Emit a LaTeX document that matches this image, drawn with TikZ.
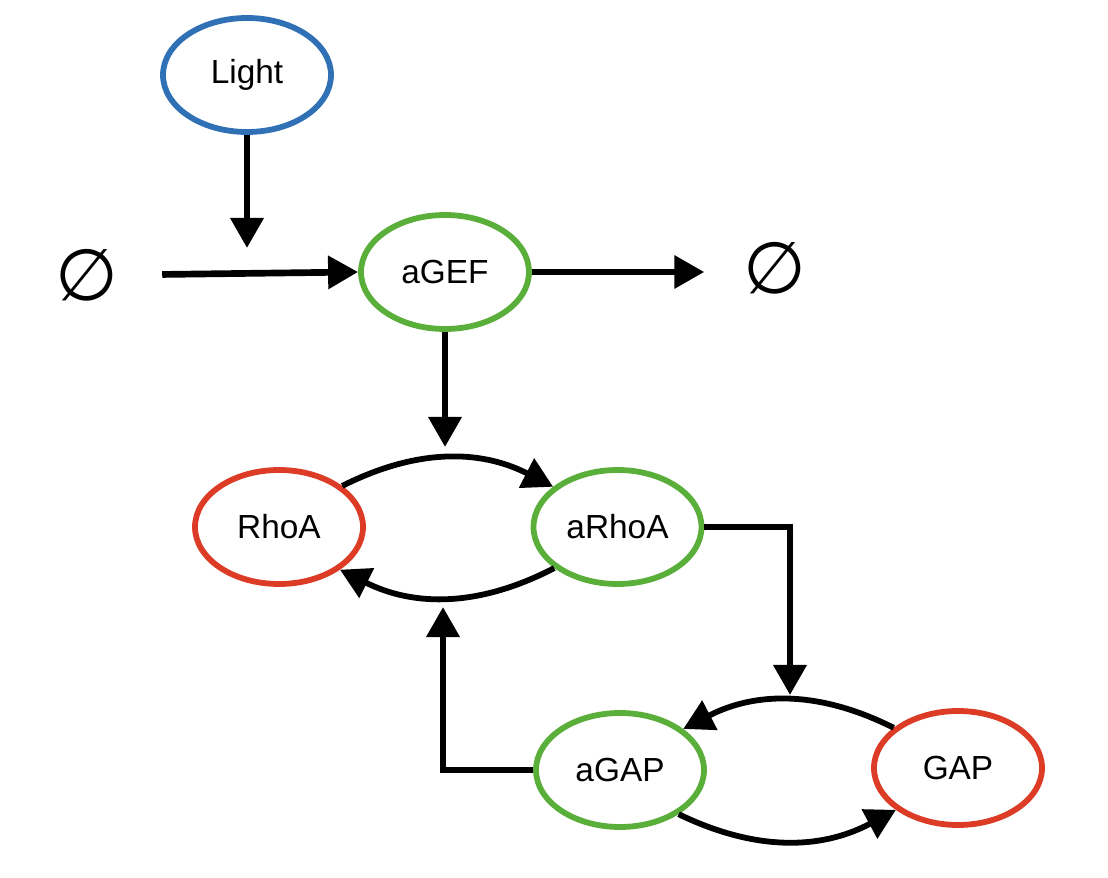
\documentclass[tikz,border=0pt]{standalone}
\usepackage{fontspec}
\setmainfont{Liberation Sans}
\newfontfamily\symfont{DejaVu Sans}
\usetikzlibrary{arrows.meta,positioning,calc,shapes.geometric}
\definecolor{sigblue}{RGB}{48,112,181}
\definecolor{actgreen}{RGB}{90,174,58}
\definecolor{inred}{RGB}{220,59,38}
\begin{document}
\begin{tikzpicture}[>={Triangle[length=0.6cm,width=0.64cm]}]
\tikzset{spec/.style={ellipse,line width=3.3pt,minimum width=3.36cm,minimum height=2.28cm,inner sep=0pt,font=\fontsize{19}{21}\selectfont}, void/.style={inner sep=0pt,font=\symfont\fontsize{41}{43}\selectfont}, flow/.style={->,line width=3.8pt}, cyc/.style={->,line width=3.3pt}}
\useasboundingbox (0,0) rectangle (22.16,-17.56);
\node[spec,draw=sigblue] (light) at (4.94,-1.50) {Light};
\node[spec,draw=actgreen] (agef) at (8.90,-5.44) {aGEF};
\node[void] (srcL) at (1.74,-5.50) {∅};
\node[void] (sinkR) at (15.50,-5.36) {∅};
\node[spec,draw=inred] (rhoa) at (5.58,-10.54) {RhoA};
\node[spec,draw=actgreen] (arhoa) at (12.35,-10.54) {aRhoA};
\node[spec,draw=actgreen] (agap) at (12.40,-15.40) {aGAP};
\node[spec,draw=inred] (gap) at (19.16,-15.36) {GAP};
% free ends of the regulation arrows
\coordinate (lightin) at (4.94,-4.96);
\coordinate (rhoin) at (8.90,-8.94);
\coordinate (gapin) at (15.80,-13.90);
\coordinate (rhoout) at (8.86,-12.14);
% production, decay and activation
\draw[flow] (light) -- (lightin);
\draw[flow,shorten <=0.87cm] (srcL.east) -- (agef.west);
\draw[flow,shorten >=0.78cm] (agef.east) -- (agef.east -| sinkR.west);
\draw[flow] (agef) -- (rhoin);
\draw[flow] (arhoa.east) -| (gapin);
\draw[flow] (agap.west) -| (rhoout);
% activation cycles
\draw[cyc] (rhoa.33) to[bend left=27] (arhoa.148);
\draw[cyc] (arhoa.213) to[bend left=27] (rhoa.325);
\draw[cyc] (gap.148) to[bend right=27] (agap.33);
\draw[cyc] (agap.323) to[bend right=27] (gap.214);
\end{tikzpicture}
\end{document}
